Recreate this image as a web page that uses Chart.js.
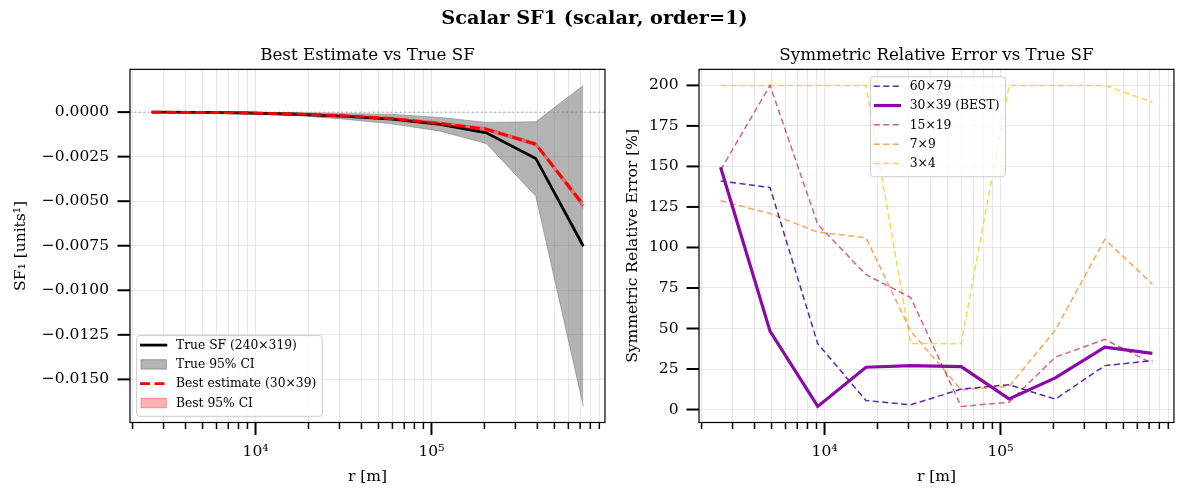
<!DOCTYPE html>
<html><head><meta charset="utf-8">
<script src="https://cdn.jsdelivr.net/npm/chart.js@4.4.1/dist/chart.umd.min.js"></script>
<style>
html,body{margin:0;padding:0;background:#fff;}
#wrap{position:relative;width:1189px;height:495px;overflow:hidden;background:#fff;}
#sup{position:absolute;left:0;top:6px;width:1189px;text-align:center;font:bold 19.3px 'DejaVu Serif';color:#000;line-height:24px;}
#c1{position:absolute;left:0;top:0;}
#c2{position:absolute;left:620px;top:0;}
</style></head><body>
<div id="wrap">
<canvas id="c1" width="620" height="495"></canvas>
<canvas id="c2" width="569" height="495"></canvas>
<div id="sup">Scalar SF1 (scalar, order=1)</div>
</div>
<script>
// ---------- data ----------
const r = [2566, 4900, 9150, 17200, 30900, 59800, 112000, 205000, 392000, 730500];
const xMin = 1934, xMax = 969000;
const xMinorTicks = [2000,3000,4000,5000,6000,7000,8000,9000,10000,20000,30000,40000,50000,60000,70000,80000,90000,100000,200000,300000,400000,500000,600000,700000,800000,900000];
const xMajorLabels = {10000: '10\u2074', 100000: '10\u2075'};

const trueSF = [0, -0.00002, -0.00005, -0.00012, -0.00022, -0.00039, -0.00069, -0.00116, -0.0026, -0.00753];
const trueHi = [0.00001, 0, -0.00001, -0.00003, -0.00008, -0.00013, -0.0003, -0.00058, -0.00054, 0.0015];
const trueLo = [-0.00001, -0.00004, -0.0001, -0.0002, -0.00038, -0.00066, -0.00107, -0.00176, -0.00472, -0.01652];
const bestSF = [0, -0.00002, -0.00005, -0.00011, -0.0002, -0.00036, -0.00064, -0.00096, -0.0018, -0.00522];
const bestHi = [0.00001, -0.00001, -0.00003, -0.00008, -0.00016, -0.0003, -0.00056, -0.00087, -0.0017, -0.00505];
const bestLo = [-0.00001, -0.00003, -0.00007, -0.00014, -0.00025, -0.00042, -0.00072, -0.00105, -0.0019, -0.0054];
const leftYTicks = [0, -0.0025, -0.005, -0.0075, -0.01, -0.0125, -0.015];
const leftYMin = -0.01742, leftYMax = 0.0024;

const err60x79 = [141, 137, 40.6, 5.6, 2.9, 12.6, 15.3, 6.4, 27.1, 30.2];
const err30x39 = [149.5, 48.4, 1.9, 26.1, 27.1, 26.5, 6.6, 19.5, 38.5, 34.6];
const err15x19 = [147.8, 200, 114.3, 83.2, 69.1, 1.9, 4.5, 32.3, 43.3, 28.4];
const err7x9 = [128.8, 120.9, 109.5, 106, 48.4, 12.2, 14.3, 49, 105, 77.4];
const err3x4 = [200, 200, 200, 200, 40.8, 40.6, 200, 200, 200, 189.6];
const rightYTicks = [0, 25, 50, 75, 100, 125, 150, 175, 200];
const rightYMin = -8, rightYMax = 209.9;

const leftLabels = ['True SF (240\u00d7319)', 'True 95% CI', 'Best estimate (30\u00d739)', 'Best 95% CI'];
const rightLabels = ['60\u00d779', '30\u00d739 (BEST)', '15\u00d719', '7\u00d79', '3\u00d74'];

// ---------- helpers ----------
const FONT = "'DejaVu Serif', serif";
const TICK_FS = 15.5, LABEL_FS = 15.5, TITLE_FS = 16.7, LEG_FS = 12.3;
const pts = arr => arr.map((v, i) => ({x: r[i], y: v}));
const fmtMinus = s => s.replace('-', '\u2212');

const framePlugin = {
  id: 'frameTicks',
  afterDraw(chart) {
    const ctx = chart.ctx, a = chart.chartArea;
    ctx.save();
    ctx.strokeStyle = '#000';
    ctx.lineWidth = 1.2;
    ctx.strokeRect(a.left, a.top, a.right - a.left, a.bottom - a.top);
    const xs = chart.scales.x;
    xs.ticks.forEach(t => {
      const px = xs.getPixelForValue(t.value);
      const major = xMajorLabels[t.value] !== undefined;
      ctx.lineWidth = major ? 2 : 1.5;
      ctx.beginPath(); ctx.moveTo(px, a.bottom); ctx.lineTo(px, a.bottom + (major ? 12.5 : 6.5)); ctx.stroke();
    });
    const ys = chart.scales.y;
    ys.ticks.forEach(t => {
      const py = ys.getPixelForValue(t.value);
      ctx.lineWidth = 2;
      ctx.beginPath(); ctx.moveTo(a.left, py); ctx.lineTo(a.left - 12.5, py); ctx.stroke();
    });
    ctx.restore();
  }
};

const zeroLinePlugin = {
  id: 'zeroLine',
  beforeDatasetsDraw(chart, args, opts) {
    if (!opts.show) return;
    const ctx = chart.ctx, a = chart.chartArea, ys = chart.scales.y;
    const py = ys.getPixelForValue(0);
    ctx.save();
    ctx.strokeStyle = 'rgba(128,128,128,0.6)';
    ctx.lineWidth = 1.2;
    ctx.setLineDash([1.5, 3]);
    ctx.beginPath(); ctx.moveTo(a.left, py); ctx.lineTo(a.right, py); ctx.stroke();
    ctx.restore();
  }
};

const legendPlugin = {
  id: 'boxLegend',
  afterDatasetsDraw(chart, args, o) {
    if (!o.items) return;
    const ctx = chart.ctx, a = chart.chartArea;
    ctx.save();
    ctx.font = o.fontSize + 'px ' + FONT;
    let maxW = 0;
    o.items.forEach(it => { maxW = Math.max(maxW, ctx.measureText(it.label).width); });
    const rowH = 19.3;
    const w = 3.3 + 27.3 + 8.7 + maxW + 6;
    const h = o.items.length * rowH + 3.5;
    let x0, y0;
    if (o.loc === 'lower left') { x0 = a.left + 6.7; y0 = a.bottom - 6.2 - h; }
    else { x0 = (a.left + a.right) / 2 - w / 2 + 1.5; y0 = a.top + 7.4; }
    ctx.fillStyle = 'rgba(255,255,255,0.8)';
    ctx.strokeStyle = '#cccccc';
    ctx.lineWidth = 1;
    ctx.beginPath();
    ctx.roundRect(x0, y0, w, h, 3);
    ctx.fill(); ctx.stroke();
    o.items.forEach((it, i) => {
      const cy = y0 + 9.5 + i * rowH;
      const sx = x0 + 3.3, ex = sx + 27.3;
      if (it.patch) {
        ctx.fillStyle = it.fill; ctx.strokeStyle = it.edge; ctx.lineWidth = 1;
        ctx.fillRect(sx + 1, cy - 4.7, 25.3, 9.4);
        ctx.strokeRect(sx + 1, cy - 4.7, 25.3, 9.4);
      } else {
        ctx.strokeStyle = it.color; ctx.lineWidth = it.width;
        ctx.setLineDash(it.dash || []);
        ctx.beginPath(); ctx.moveTo(sx, cy); ctx.lineTo(ex, cy); ctx.stroke();
        ctx.setLineDash([]);
      }
      ctx.fillStyle = '#000';
      ctx.textBaseline = 'middle';
      ctx.textAlign = 'left';
      ctx.fillText(it.label, ex + 8.7, cy + 0.5);
    });
    ctx.restore();
  }
};

const gridColor = 'rgba(200,200,200,0.55)';

function xScale() {
  return {
    type: 'logarithmic', min: xMin, max: xMax,
    afterBuildTicks: s => { s.ticks = xMinorTicks.map(v => ({value: v})); },
    afterFit: s => { s.height = 72.5; },
    grid: {color: gridColor, lineWidth: 0.8, drawTicks: false},
    border: {display: false},
    ticks: {
      autoSkip: false, maxRotation: 0, minRotation: 0, padding: 20.5,
      color: '#000', font: {family: FONT, size: TICK_FS},
      callback: v => xMajorLabels[v] || ''
    },
    title: {display: true, text: 'r [m]', color: '#000', font: {family: FONT, size: LABEL_FS}, padding: {top: 0, bottom: 8.7}}
  };
}

// ---------- left chart ----------
new Chart(document.getElementById('c1'), {
  type: 'line',
  data: {
    datasets: [
      {label: 'True 95% CI hi', data: pts(trueHi), borderColor: 'rgba(128,128,128,0.6)', borderWidth: 1, backgroundColor: 'rgba(128,128,128,0.6)', fill: '+1', pointRadius: 0, order: 6},
      {label: 'True 95% CI lo', data: pts(trueLo), borderColor: 'rgba(128,128,128,0.6)', borderWidth: 1, fill: false, pointRadius: 0, order: 5},
      {label: leftLabels[0], data: pts(trueSF), borderColor: '#000', borderWidth: 2.8, fill: false, pointRadius: 0, order: 4},
      {label: 'Best 95% CI hi', data: pts(bestHi), borderColor: 'rgba(255,0,0,0.3)', borderWidth: 1, backgroundColor: 'rgba(255,0,0,0.3)', fill: '+1', pointRadius: 0, order: 3},
      {label: 'Best 95% CI lo', data: pts(bestLo), borderColor: 'rgba(255,0,0,0.3)', borderWidth: 1, fill: false, pointRadius: 0, order: 2},
      {label: leftLabels[2], data: pts(bestSF), borderColor: '#ff0000', borderWidth: 2.8, borderDash: [10, 4.5], fill: false, pointRadius: 0, order: 1}
    ]
  },
  options: {
    responsive: false, animation: false,
    layout: {padding: {left: 0, right: 8, top: 0, bottom: 0}},
    scales: {
      x: xScale(),
      y: {
        min: leftYMin, max: leftYMax,
        afterBuildTicks: s => { s.ticks = leftYTicks.map(v => ({value: v})); },
        afterFit: s => { s.width = 130; },
        grid: {color: gridColor, lineWidth: 0.8, drawTicks: false},
        border: {display: false},
        ticks: {padding: 21, color: '#000', font: {family: FONT, size: TICK_FS}, callback: v => fmtMinus(Number(v).toFixed(4))},
        title: {display: true, text: 'SF\u2081 [units\u00b9]', color: '#000', font: {family: FONT, size: LABEL_FS}, padding: {top: 11.2, bottom: 0}}
      }
    },
    plugins: {
      legend: {display: false},
      tooltip: {enabled: false},
      title: {display: true, fullSize: false, text: 'Best Estimate vs True SF', color: '#000', font: {family: FONT, size: TITLE_FS, weight: 'normal'}, padding: {top: 45.3, bottom: 4}},
      zeroLine: {show: true},
      boxLegend: {
        loc: 'lower left', fontSize: LEG_FS,
        items: [
          {label: leftLabels[0], color: '#000', width: 2.8},
          {label: leftLabels[1], patch: true, fill: 'rgba(128,128,128,0.6)', edge: 'rgba(128,128,128,0.7)'},
          {label: leftLabels[2], color: '#ff0000', width: 2.8, dash: [10, 4.5]},
          {label: leftLabels[3], patch: true, fill: 'rgba(255,0,0,0.3)', edge: 'rgba(255,0,0,0.35)'}
        ]
      }
    }
  },
  plugins: [zeroLinePlugin, framePlugin, legendPlugin]
});

// ---------- right chart ----------
const rightColors = ['rgba(65,4,157,0.85)', '#8b0aa5', 'rgba(204,71,120,0.85)', 'rgba(248,149,64,0.85)', 'rgba(252,206,37,0.85)'];
const rightSeries = [err60x79, err30x39, err15x19, err7x9, err3x4];
const rightDatasets = rightSeries.map((s, i) => ({
  label: rightLabels[i], data: pts(s), borderColor: rightColors[i],
  borderWidth: i === 1 ? 3.2 : 1.5, borderDash: i === 1 ? [] : [6, 3.5],
  fill: false, pointRadius: 0, order: i === 1 ? 0 : 1 + i
}));

new Chart(document.getElementById('c2'), {
  type: 'line',
  data: {datasets: rightDatasets},
  options: {
    responsive: false, animation: false,
    layout: {padding: {left: 0, right: 11, top: 0, bottom: 0}},
    scales: {
      x: xScale(),
      y: {
        min: rightYMin, max: rightYMax,
        afterBuildTicks: s => { s.ticks = rightYTicks.map(v => ({value: v})); },
        afterFit: s => { s.width = 79; },
        grid: {color: gridColor, lineWidth: 0.8, drawTicks: false},
        border: {display: false},
        ticks: {padding: 20.5, color: '#000', font: {family: FONT, size: TICK_FS}, callback: v => String(v)},
        title: {display: true, text: 'Symmetric Relative Error [%]', color: '#000', font: {family: FONT, size: LABEL_FS}, padding: {top: 3.7, bottom: 0}}
      }
    },
    plugins: {
      legend: {display: false},
      tooltip: {enabled: false},
      title: {display: true, fullSize: false, text: 'Symmetric Relative Error vs True SF', color: '#000', font: {family: FONT, size: TITLE_FS, weight: 'normal'}, padding: {top: 45.3, bottom: 4}},
      zeroLine: {show: false},
      boxLegend: {
        loc: 'upper center', fontSize: LEG_FS,
        items: rightDatasets.map(d => ({label: d.label, color: d.borderColor, width: d.borderWidth, dash: d.borderDash}))
      }
    }
  },
  plugins: [zeroLinePlugin, framePlugin, legendPlugin]
});
</script>
</body></html>
